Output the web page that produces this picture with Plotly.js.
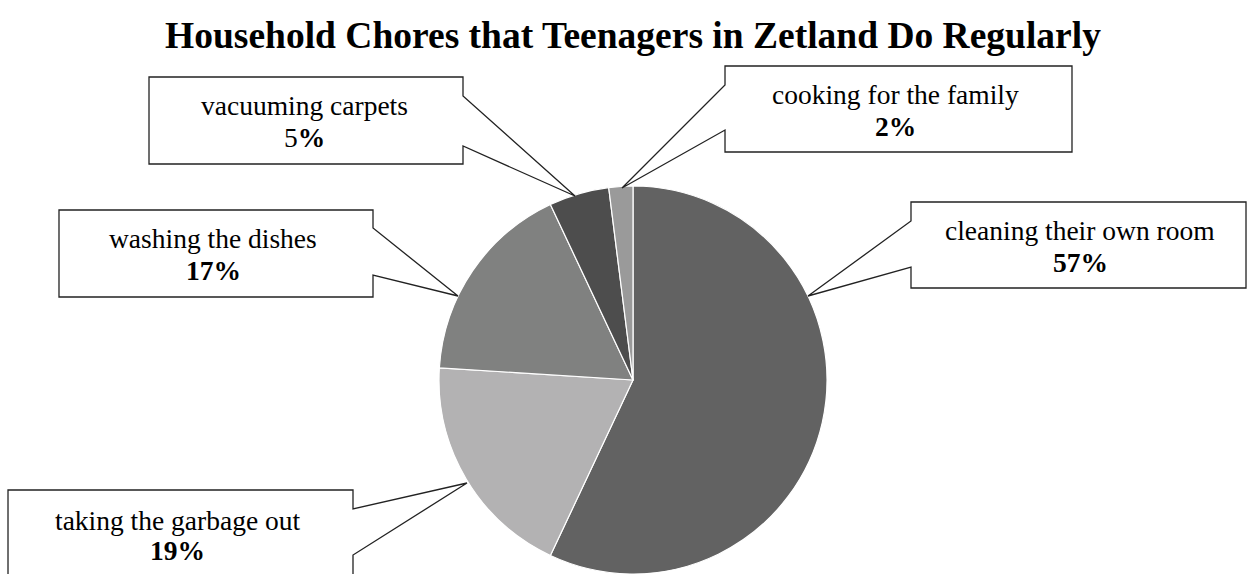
<!DOCTYPE html>
<html>
<head>
<meta charset="utf-8">
<script src="https://cdn.plot.ly/plotly-3.0.1.min.js"></script>
<style>
html,body{margin:0;padding:0;overflow:hidden;background:#fff;}
#chart{width:1247px;height:574px;}
</style>
</head>
<body>
<div id="chart"></div>
<script>
// ---- data ----
const chores = ["cleaning their own room", "taking the garbage out", "washing the dishes", "vacuuming carpets", "cooking for the family"];
const shares = [57, 19, 17, 5, 2];
const shareLabels = ["<b>57%</b>", "<b>19%</b>", "<b>17%</b>", "5<b>%</b>", "<b>2%</b>"];
const sliceColors = ["#626262", "#b3b2b3", "#808180", "#4d4d4d", "#9a9a9a"];
const chartTitle = "Household Chores that Teenagers in Zetland Do Regularly";

// ---- layout helpers (pixel -> paper) ----
const W = 1247, H = 574;
const px = x => x / W;
const py = y => 1 - y / H;

// pie placement
const cx = 633, R = 194;

// callout geometry (box left/top/right/bottom, notch side, notch y1/y2, tip, text centre x)
const callouts = [
  {box:[911,202,1246,288], side:"left",  n:[221,267], tip:[808,296], tx:1080, d1:38},
  {box:[8,490,353,600],    side:"right", n:[509,555], tip:[467,483], tx:177,  d1:40},
  {box:[59,210,373,297],   side:"right", n:[228,275], tip:[458,296], tx:213,  d1:38},
  {box:[149,77,463,164],   side:"right", n:[96,146],  tip:[575,196], tx:304,  d1:38},
  {box:[725,66,1072,152],  side:"left",  n:[85,130],  tip:[622,188], tx:895,  d1:38}
];

function calloutPath(c){
  const [l,t,r,b] = c.box;
  let pts;
  if (c.side === "left") {
    pts = [[l,t],[r,t],[r,b],[l,b],[l,c.n[1]],c.tip,[l,c.n[0]]];
  } else {
    pts = [[l,t],[r,t],[r,c.n[0]],c.tip,[r,c.n[1]],[r,b],[l,b]];
  }
  return "M " + pts.map(p => px(p[0]).toFixed(5) + "," + py(p[1]).toFixed(5)).join(" L ") + " Z";
}

const fontFam = "Liberation Serif, Times New Roman, serif";
const fs = 27.5;
const shapes = callouts.map(c => ({
  type: "path", xref: "paper", yref: "paper",
  path: calloutPath(c),
  fillcolor: "#ffffff",
  line: {color: "#222222", width: 1.3},
  layer: "above"
}));

const annotations = [];
callouts.forEach((c, i) => {
  const top = c.box[1];
  const b1 = top + c.d1, b2 = top + 70;
  const off = 0.3375 * fs;
  annotations.push({xref:"paper", yref:"paper", x:px(c.tx), y:py(b1 - off), xanchor:"center", yanchor:"middle",
    text: chores[i], showarrow:false, font:{family:fontFam, size:fs, color:"#000"}});
  annotations.push({xref:"paper", yref:"paper", x:px(c.tx), y:py(b2 - off), xanchor:"center", yanchor:"middle",
    text: shareLabels[i], showarrow:false, font:{family:fontFam, size:fs, color:"#000"}});
});

const trace = {
  type: "pie",
  labels: chores,
  values: shares,
  sort: false,
  direction: "clockwise",
  rotation: 0,
  textinfo: "none",
  hoverinfo: "label+percent",
  marker: {colors: sliceColors, line: {color: "#ffffff", width: 1.2}},
  domain: {x: [px(cx - R), px(cx + R)], y: [0, 2 * R / H]},
  showlegend: false
};

const layout = {
  width: W, height: H,
  margin: {l:0, r:0, t:0, b:0},
  paper_bgcolor: "#ffffff",
  showlegend: false,
  title: {
    text: chartTitle,
    x: px(633), xref: "paper", xanchor: "center",
    y: 1 - 35 / H, yref: "container", yanchor: "middle",
    font: {family: fontFam, size: 37.5, color: "#000", weight: "bold"}
  },
  shapes: shapes,
  annotations: annotations
};

Plotly.newPlot("chart", [trace], layout, {displayModeBar: false, staticPlot: true});
</script>
</body>
</html>
